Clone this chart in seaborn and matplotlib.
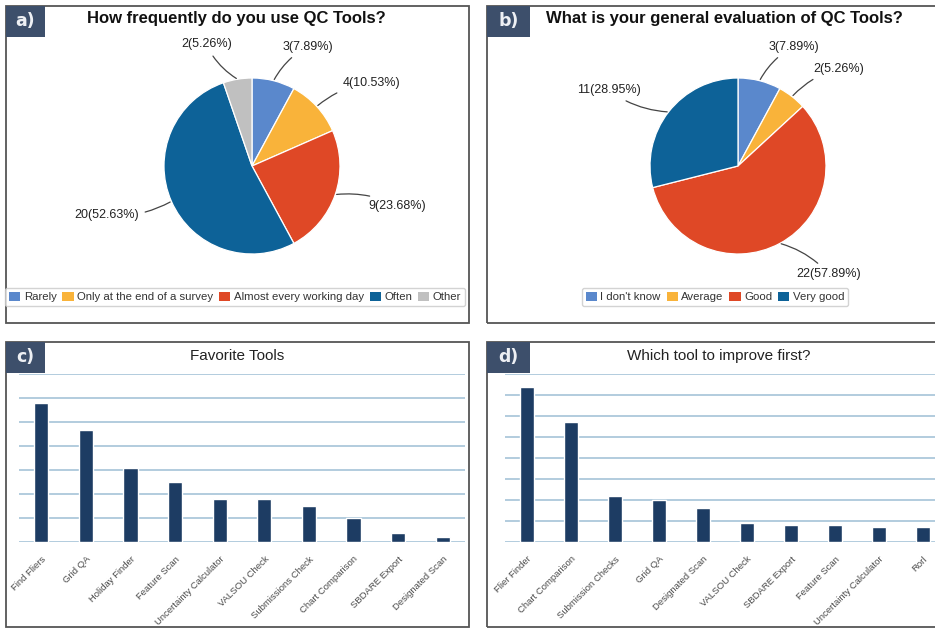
import numpy as np
import matplotlib
matplotlib.use("Agg")
import matplotlib.pyplot as plt
from matplotlib.patches import Rectangle, Patch
import seaborn as sns

# ---- survey data ----
freq_labels = ["Rarely", "Only at the end of a survey", "Almost every working day", "Often", "Other"]
freq_counts = [3, 4, 9, 20, 2]

eval_labels = ["I don't know", "Average", "Good", "Very good"]
eval_counts = [3, 2, 22, 11]

fav_tools = ["Find Fliers", "Grid QA", "Holiday Finder", "Feature Scan", "Uncertainty Calculator",
             "VALSOU Check", "Submissions Check", "Chart Comparison", "SBDARE Export", "Designated Scan"]
fav_votes = [29, 23.4, 15.5, 12.4, 8.9, 8.9, 7.4, 4.9, 1.9, 1.0]

improve_tools = ["Flier Finder", "Chart Comparison", "Submission Checks", "Grid QA", "Designated Scan",
                 "VALSOU Check", "SBDARE Export", "Feature Scan", "Uncertainty Calculator", "Rorl"]
improve_votes = [74, 57, 22, 20, 16, 9, 8, 8, 7, 7]

# ---- styling ----
sns.set_theme(style="white")
plt.rcParams["font.family"] = ["Liberation Sans", "DejaVu Sans"]

W, H = 935, 628
fig = plt.figure(figsize=(W / 100, H / 100), dpi=100)
fig.patch.set_facecolor("white")

BLUE = "#5a88cc"
YELLOW = "#f9b33a"
RED = "#df4826"
DARK = "#0d6298"
GRAY = "#c0c0c0"
NAVY = "#1d3c63"
TAG = "#3d4f6b"
GRID = "#a6c4d8"
FRAME = "#555555"


def rect(left, top, right, bottom):
    return [left / W, 1 - bottom / H, (right - left) / W, (bottom - top) / H]


def panel(left, top, right, bottom, tag, tag_w):
    fig.add_artist(Rectangle((left / W, 1 - bottom / H), (right - left) / W, (bottom - top) / H,
                             transform=fig.transFigure, facecolor="none",
                             edgecolor=FRAME, lw=1.3, zorder=5))
    fig.add_artist(Rectangle((left / W, 1 - (top + 31) / H), tag_w / W, 31 / H,
                             transform=fig.transFigure, facecolor=TAG,
                             edgecolor="none", zorder=6))
    fig.text((left + tag_w / 2) / W, 1 - (top + 15.5) / H, tag, color="#eef0f4",
             fontsize=12.5, fontweight="bold", ha="center", va="center", zorder=7,
             family=["DejaVu Sans"])


def pie_panel(cx, cy, r, counts, colors, title, tx, labels, legend_cx):
    ax = fig.add_axes(rect(cx - r, cy - r, cx + r, cy + r))
    total = sum(counts)
    wedges, _ = ax.pie(counts, colors=colors, startangle=90, counterclock=False,
                       wedgeprops=dict(edgecolor="white", linewidth=0.9))
    ax.set_xlim(-1, 1)
    ax.set_ylim(-1, 1)
    ax.set_aspect("equal")
    ax.axis("off")
    for w, c in zip(wedges, counts):
        mid = np.deg2rad((w.theta1 + w.theta2) / 2)
        x0, y0 = np.cos(mid), np.sin(mid)
        ha = "left" if x0 >= 0 else "right"
        ax.annotate(f"{c}({c / total * 100:.2f}%)", xy=(x0 * 1.0, y0 * 1.0),
                    xytext=(x0 * 1.40, y0 * 1.40), ha=ha, va="center",
                    fontsize=9, color="#222222", annotation_clip=False,
                    arrowprops=dict(arrowstyle="-", color="#444444", lw=0.9,
                                    shrinkA=2, shrinkB=1,
                                    connectionstyle="arc3,rad=0.15"))
    fig.text(tx / W, 1 - 19 / H, title, fontsize=12, fontweight="bold",
             ha="center", va="center", color="#111111")
    handles = [Patch(facecolor=col, edgecolor="none") for col in colors]
    fig.legend(handles, labels, loc="center", bbox_to_anchor=(legend_cx / W, 1 - 297 / H),
               ncol=len(labels), fontsize=8.2, frameon=True, fancybox=True,
               edgecolor="#c8c8c8", handlelength=1.0, handleheight=0.8,
               handletextpad=0.3, columnspacing=0.5, borderpad=0.35,
               labelcolor="#333333")


def bar_panel(left, right, cats, vals, ymax, step, title, tx):
    ax = fig.add_axes(rect(left, 374, right, 542))
    sns.barplot(x=cats, y=vals, color=NAVY, width=0.32, saturation=1, ax=ax, zorder=3)
    ax.set_ylim(0, ymax)
    ax.set_xlim(-0.5, len(cats) - 0.5)
    ax.set_yticks(np.arange(0, ymax + 0.1, step))
    ax.yaxis.grid(True, color=GRID, lw=1.2, zorder=0)
    ax.tick_params(axis="y", left=False, labelleft=False)
    ax.tick_params(axis="x", bottom=False, pad=3)
    for s in ax.spines.values():
        s.set_visible(False)
    ax.set_facecolor("none")
    plt.setp(ax.get_xticklabels(), rotation=45, ha="right", rotation_mode="anchor",
             fontsize=6.8, color="#4a4a4a")
    ax.set_xlabel("")
    ax.set_ylabel("")
    fig.text(tx / W, 1 - 356 / H, title, fontsize=11, ha="center", va="center",
             color="#222222")


# panels and tags
panel(6, 6, 469, 323, "a)", 39)
panel(487, 6, 960, 323, "b)", 43)
panel(6, 342, 469, 627, "c)", 39)
panel(487, 342, 960, 627, "d)", 43)

pie_panel(252, 166, 88, freq_counts, [BLUE, YELLOW, RED, DARK, GRAY],
          "How frequently do you use QC Tools?", 236, freq_labels, 235)
pie_panel(738, 166, 88, eval_counts, [BLUE, YELLOW, RED, DARK],
          "What is your general evaluation of QC Tools?", 724, eval_labels, 715)

bar_panel(19, 465, fav_tools, fav_votes, 35, 5, "Favorite Tools", 237)
bar_panel(505, 945, improve_tools, improve_votes, 80, 10, "Which tool to improve first?", 719)

fig.savefig("out.png", dpi=100, facecolor="white")
